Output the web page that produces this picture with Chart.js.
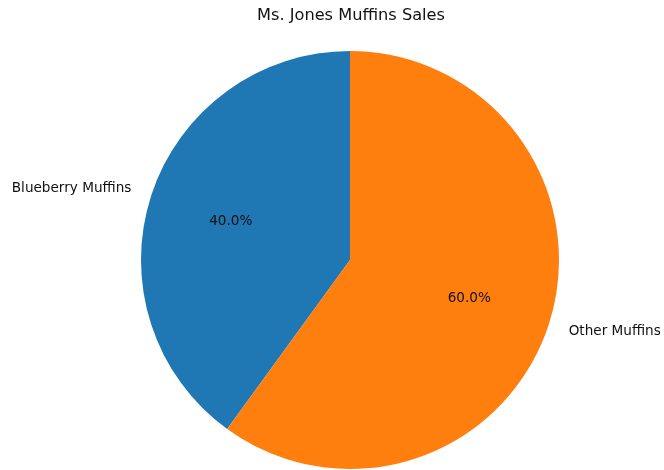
<!DOCTYPE html>
<html>
<head>
<meta charset="utf-8">
<script src="https://cdn.jsdelivr.net/npm/chart.js@4"></script>
<style>
  html, body { margin: 0; padding: 0; background: #fff; }
  #wrap { width: 664px; height: 470px; position: relative; }
</style>
</head>
<body>
<div id="wrap"><canvas id="pie"></canvas></div>
<script>
const title = "Ms. Jones Muffins Sales";
const labels = ["Blueberry Muffins", "Other Muffins"];
const sales = [40, 60];
const colors = ["#1f77b4", "#ff7f0e"];

const FONT = "'DejaVu Sans', sans-serif";

// draws title, outer labels (1.1r) and percentages (0.6r) like matplotlib
const pieText = {
  id: "pieText",
  afterDraw(chart) {
    const ctx = chart.ctx;
    const total = sales.reduce((a, b) => a + b, 0);
    ctx.save();
    ctx.fillStyle = "#111";
    ctx.font = "16.2px " + FONT;
    ctx.textAlign = "center";
    ctx.textBaseline = "middle";
    ctx.fillText(title, 351, 16);

    chart.getDatasetMeta(0).data.forEach((arc, i) => {
      const p = arc.getProps(["x", "y", "startAngle", "endAngle", "outerRadius"], true);
      const mid = (p.startAngle + p.endAngle) / 2;
      const cx = Math.cos(mid), cy = Math.sin(mid);

      ctx.font = "13.6px " + FONT;
      ctx.textBaseline = "middle";
      ctx.textAlign = "center";
      ctx.fillText((sales[i] / total * 100).toFixed(1) + "%",
        p.x + cx * p.outerRadius * 0.6, p.y + cy * p.outerRadius * 0.6);

      ctx.textAlign = cx < 0 ? "right" : "left";
      ctx.fillText(labels[i],
        p.x + cx * p.outerRadius * 1.1, p.y + cy * p.outerRadius * 1.1);
    });
    ctx.restore();
  }
};

new Chart(document.getElementById("pie"), {
  type: "pie",
  data: {
    labels: labels,
    datasets: [{
      data: sales,
      backgroundColor: colors,
      borderWidth: 0
    }]
  },
  options: {
    responsive: true,
    maintainAspectRatio: false,
    animation: false,
    rotation: -144,
    layout: { padding: { top: 51, bottom: 1, left: 36, right: 0 } },
    plugins: {
      legend: { display: false },
      tooltip: { enabled: false }
    }
  },
  plugins: [pieText]
});
</script>
</body>
</html>
